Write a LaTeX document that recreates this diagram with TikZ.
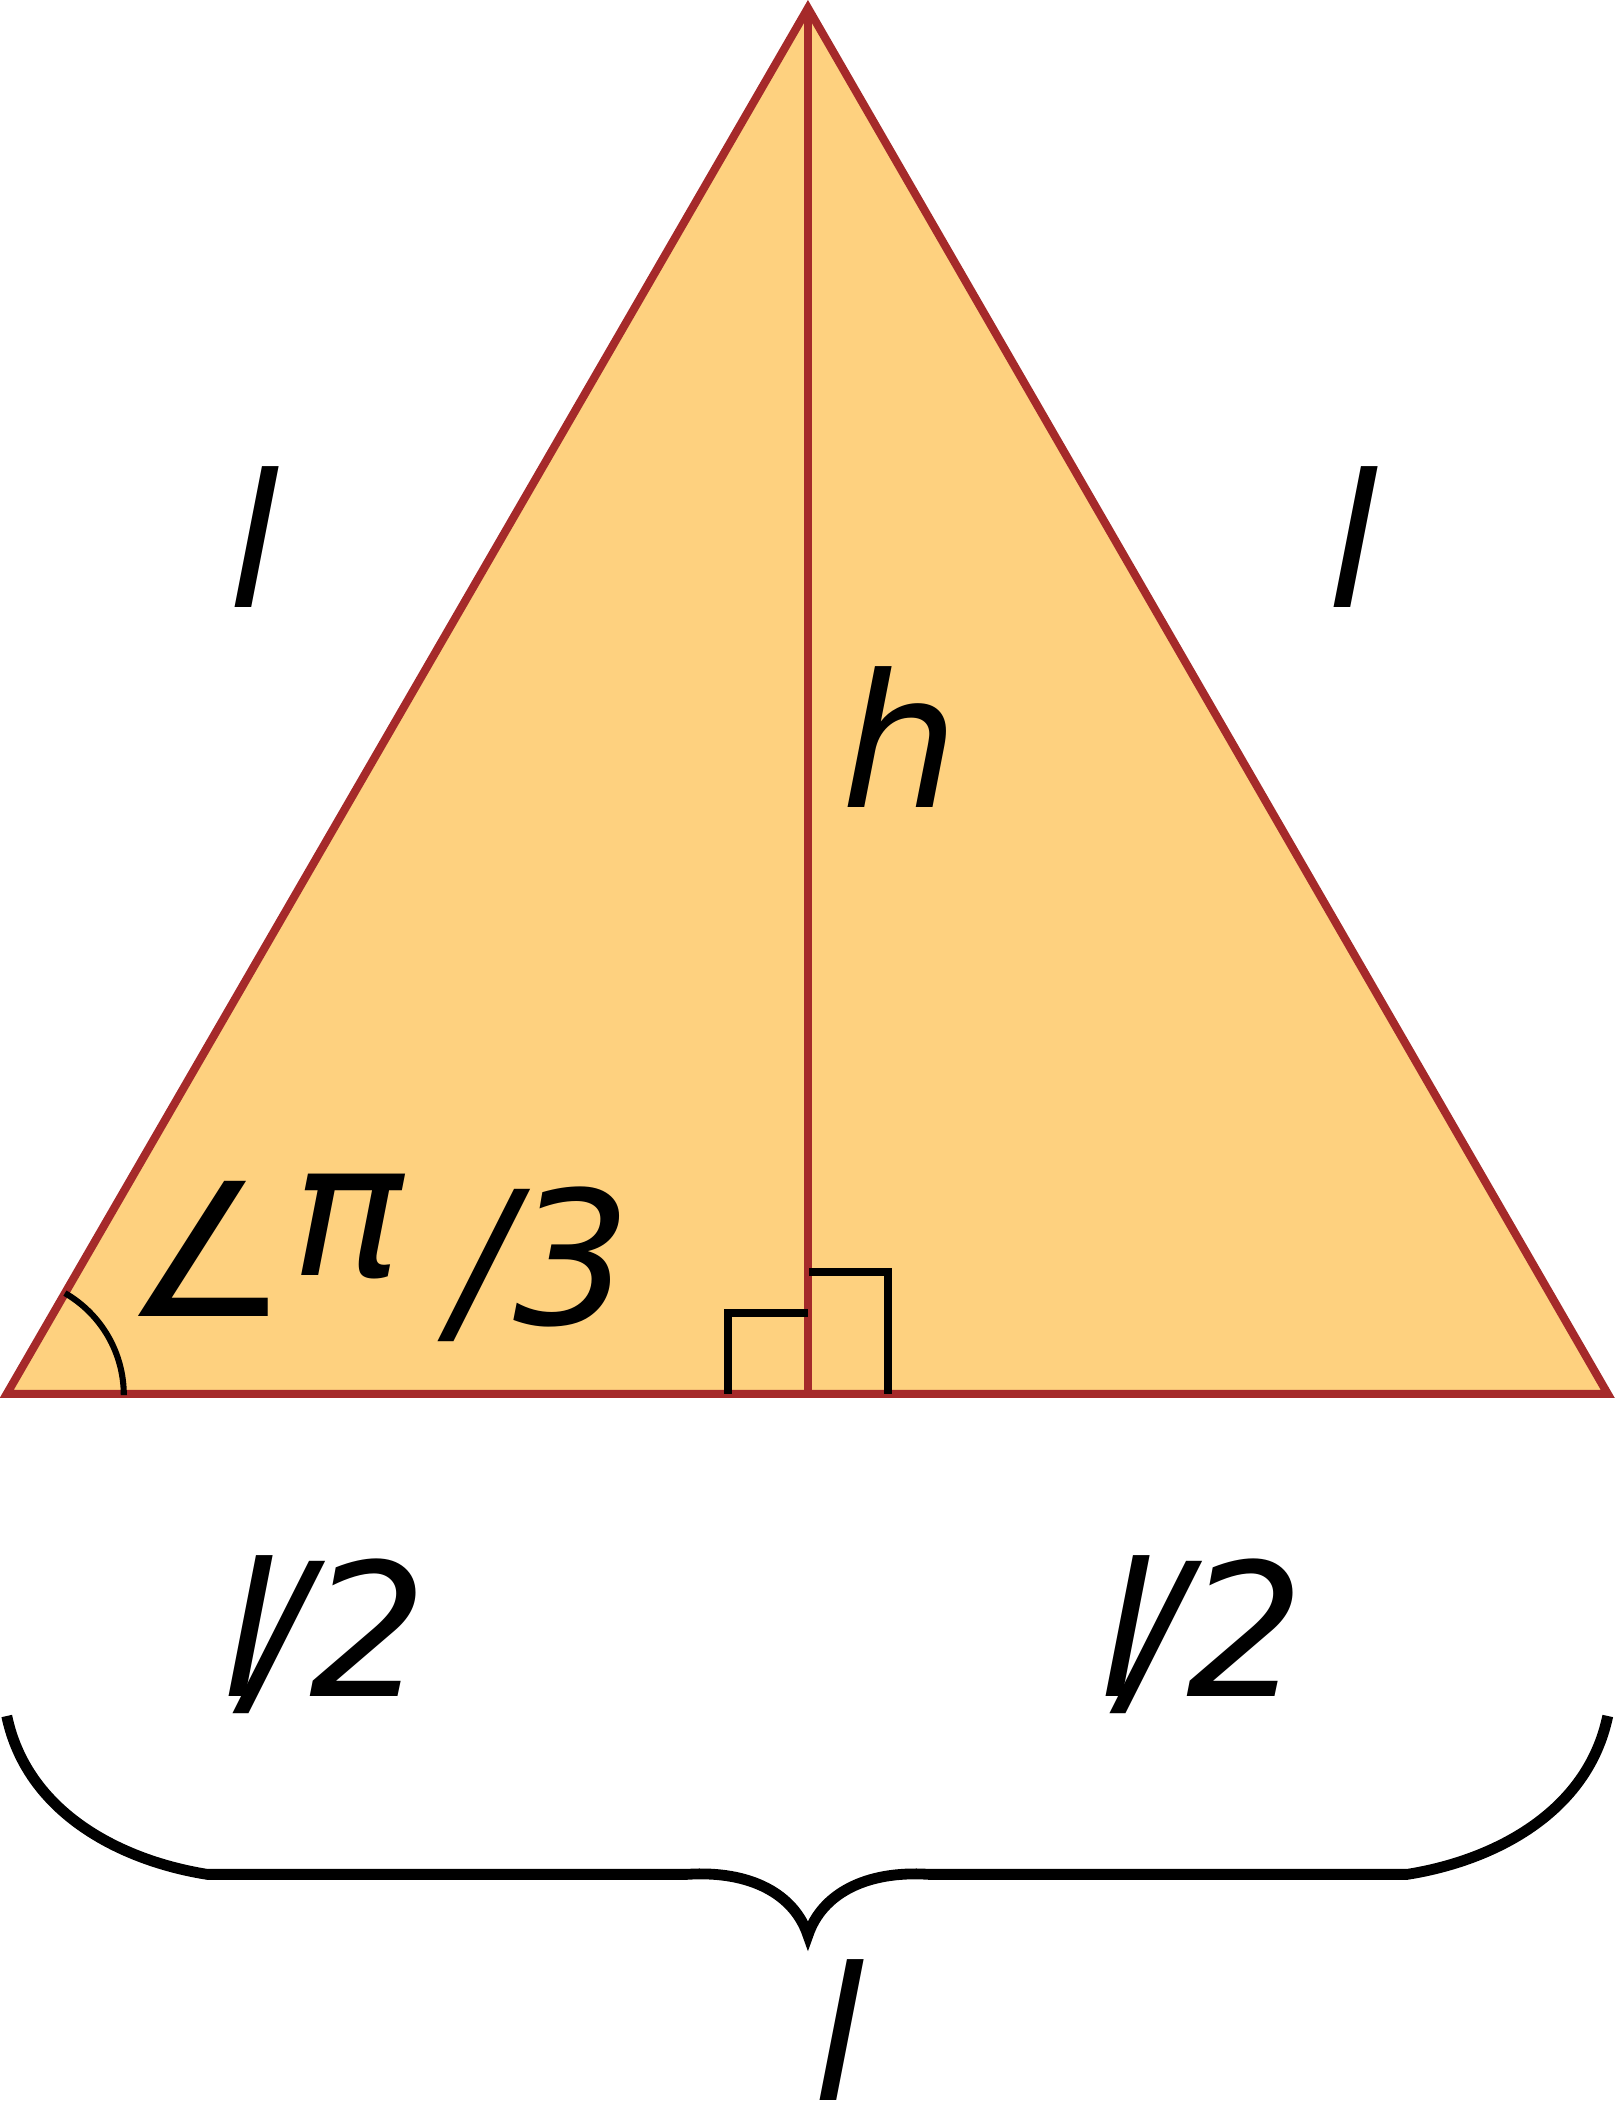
\documentclass[tikz,border=0pt]{standalone}
\usepackage{fontspec}
\setmainfont{DejaVu Sans}
\usetikzlibrary{positioning}
\definecolor{trifill}{RGB}{254,209,127}
\definecolor{triedge}{RGB}{165,42,42}

\begin{document}
\begin{tikzpicture}
   [x=0.02cm,y=0.02cm,
    tri/.style={draw=triedge,fill=trifill,line width=0.12cm,line join=miter},
    height/.style={draw=triedge,line width=0.12cm},
    rmark/.style={draw=black,line width=0.12cm},
    anglearc/.style={draw=black,line width=0.09cm},
    brace/.style={draw=black,line width=0.16cm},
    lbl/.style={inner sep=0pt,font=\fontsize{78}{90}\selectfont\itshape}]
\useasboundingbox (0,0) rectangle (1193,1568);
\coordinate (A) at (5,538);
\coordinate (B) at (1188,538);
\coordinate (C) at (597,1562);
\coordinate (H) at (597,538);
\draw [tri] (A) -- (B) -- (C) -- cycle;
\draw [height] (C) -- (H);
% right angle marks
\draw [rmark] (538,538) -- (538,598) -- (597,598);
\draw [rmark] (598,628) -- (656,628) -- (656,538);
\draw [anglearc] ([shift={(60:1.72cm)}]A) arc[start angle=60,end angle=0,radius=1.74cm];
% brace under the base
\draw [brace] (5,300) .. controls (20,228) and (90,193) .. (153,183) -- (508,183)
   .. controls (555,186) and (587,168) .. (597,138)
   .. controls (607,168) and (639,186) .. (686,183) -- (1040,183)
   .. controls (1103,193) and (1173,228) .. (1188,300);
\node [lbl] (sideL) at (188,1171) {l};
\node [lbl] (sideR) at (1000,1171) {l};
\node [lbl] (hgt) at (665,1023) {h};
\node [lbl,font=\fontsize{78}{90}\selectfont\upshape] (ang) at (152,645) {∠};
\node [lbl] (piv) at (257,662) {π};
\node [lbl] (third) at (400,634) {/3};
\node [lbl] (halfL) at (240,360) {l\kern-0.15em/2};
\node [lbl] (halfR) at (888,360) {l\kern-0.15em/2};
\node [lbl] (base) at (620,68) {l};
\end{tikzpicture}
\end{document}
